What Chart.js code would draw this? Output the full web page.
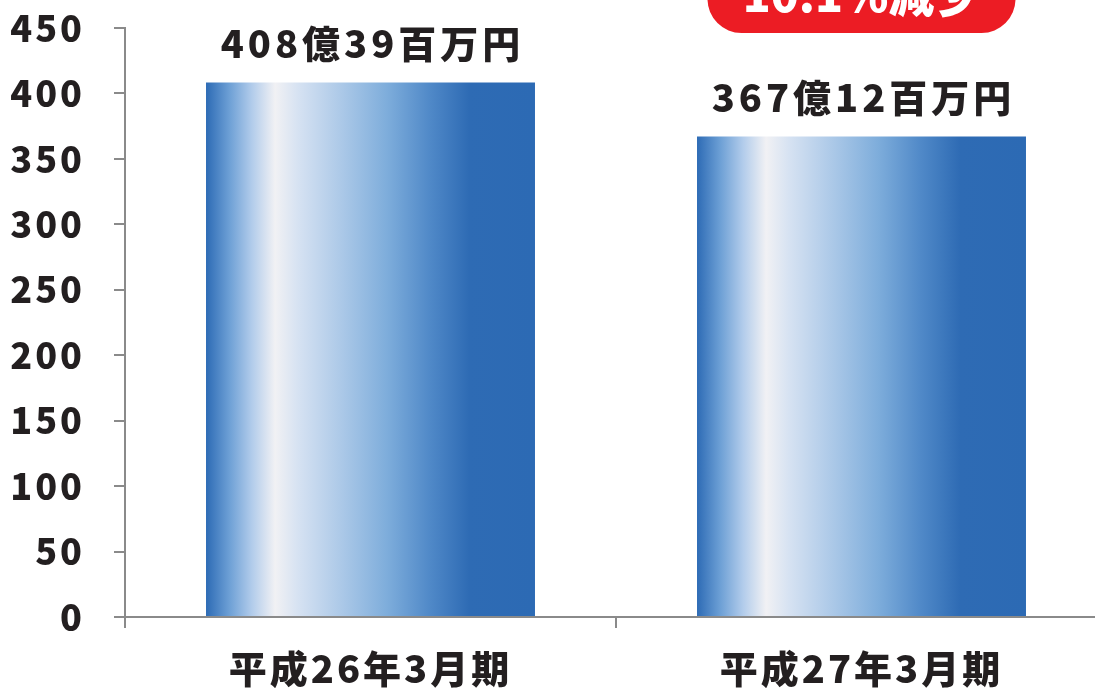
<!DOCTYPE html>
<html lang="ja">
<head>
<meta charset="utf-8">
<title>売上高</title>
<script src="https://cdn.jsdelivr.net/npm/chart.js@4"></script>
<style>
  html, body { margin: 0; padding: 0; background: #fff; overflow: hidden; }
  .wrap { position: relative; width: 1110px; height: 688px; }
</style>
</head>
<body>
<div class="wrap"><canvas id="salesChart"></canvas></div>
<script>
// 期別の売上（億円）
const periods = ['平成26年3月期', '平成27年3月期'];
const sales = [408.39, 367.12];
const valueLabels = ['408億39百万円', '367億12百万円'];
const yTicks = [0, 50, 100, 150, 200, 250, 300, 350, 400, 450];
const changeLabel = '10.1%減少';

const FONT = '"Noto Sans CJK JP", "Liberation Sans", sans-serif';
const TEXT = '#231f20';
const AXIS = '#8a8a8a';

// 棒の横グラデーション（左端の濃紺→白→青）
function barGradient(ctx) {
    const chart = ctx.chart;
    if (!chart.chartArea) return '#2e6bb4';
    const xs = chart.scales.x;
    const cx = xs.getPixelForValue(ctx.dataIndex);
    const w = (xs.width / periods.length) * 0.67;
    const g = chart.ctx.createLinearGradient(cx - w / 2, 0, cx + w / 2, 0);
    g.addColorStop(0.00, '#2d6bb5');
    g.addColorStop(0.07, '#6c9fd5');
    g.addColorStop(0.14, '#b2cceb');
    g.addColorStop(0.21, '#f1f1f4');
    g.addColorStop(0.28, '#d6e2f2');
    g.addColorStop(0.42, '#a9c7e7');
    g.addColorStop(0.55, '#7eaddb');
    g.addColorStop(0.68, '#5089c8');
    g.addColorStop(0.80, '#2e6bb4');
    g.addColorStop(1.00, '#2c6ab4');
    return g;
}

// 軸ラベルの字間を少し広げる
const spacingPlugin = {
    id: 'letterSpacing',
    beforeDraw(chart) { chart.ctx.letterSpacing = '3px'; },
    afterDraw(chart) { chart.ctx.letterSpacing = '0px'; }
};

// 棒の上の金額ラベル
const valueLabelPlugin = {
    id: 'valueLabels',
    afterDatasetsDraw(chart) {
        const c = chart.ctx;
        const meta = chart.getDatasetMeta(0);
        c.save();
        c.font = '900 38px ' + FONT;
        c.letterSpacing = '4px';
        c.fillStyle = TEXT;
        c.textAlign = 'center';
        c.textBaseline = 'alphabetic';
        meta.data.forEach((bar, i) => {
            c.fillText(valueLabels[i], bar.x + 2, bar.y - 24);
        });
        c.restore();
    }
};

// 右上の増減バッジ
const badgePlugin = {
    id: 'changeBadge',
    afterDraw(chart) {
        const c = chart.ctx;
        const xs = chart.scales.x;
        const cx = xs.getPixelForValue(1);
        c.save();
        c.letterSpacing = '0px';
        c.fillStyle = '#ec1c24';
        c.beginPath();
        c.roundRect(cx - 154, -60, 308, 93, 34);
        c.fill();
        c.font = '900 46px ' + FONT;
        c.fillStyle = '#ffffff';
        c.textAlign = 'center';
        c.textBaseline = 'alphabetic';
        c.fillText(changeLabel, cx, 12);
        c.restore();
    }
};

new Chart(document.getElementById('salesChart'), {
    type: 'bar',
    data: {
        labels: periods,
        datasets: [{
            data: sales,
            backgroundColor: barGradient,
            borderWidth: 0,
            categoryPercentage: 1,
            barPercentage: 0.67
        }]
    },
    options: {
        responsive: true,
        maintainAspectRatio: false,
        animation: false,
        layout: { padding: { top: 28, right: 3, left: 0, bottom: 0 } },
        plugins: {
            legend: { display: false },
            tooltip: { enabled: false }
        },
        scales: {
            y: {
                min: 0,
                max: 450,
                afterFit: (s) => {
                    s.width = 125;
                    s.paddingTop = 0;
                    s.paddingBottom = 0;
                },
                afterBuildTicks: (s) => { s.ticks = yTicks.map(v => ({ value: v })); },
                ticks: {
                    padding: 29,
                    color: TEXT,
                    font: { family: FONT, size: 36, weight: 900 }
                },
                border: { color: AXIS, width: 2 },
                grid: {
                    drawOnChartArea: false,
                    tickLength: 11,
                    color: AXIS,
                    lineWidth: 2
                }
            },
            x: {
                afterFit: (s) => { s.height = 71; },
                ticks: {
                    padding: 18,
                    color: TEXT,
                    font: { family: FONT, size: 38, weight: 900 }
                },
                border: { color: AXIS, width: 2 },
                grid: {
                    offset: true,
                    drawOnChartArea: false,
                    tickLength: 11,
                    color: AXIS,
                    lineWidth: 2
                }
            }
        }
    },
    plugins: [spacingPlugin, valueLabelPlugin, badgePlugin]
});
</script>
</body>
</html>
